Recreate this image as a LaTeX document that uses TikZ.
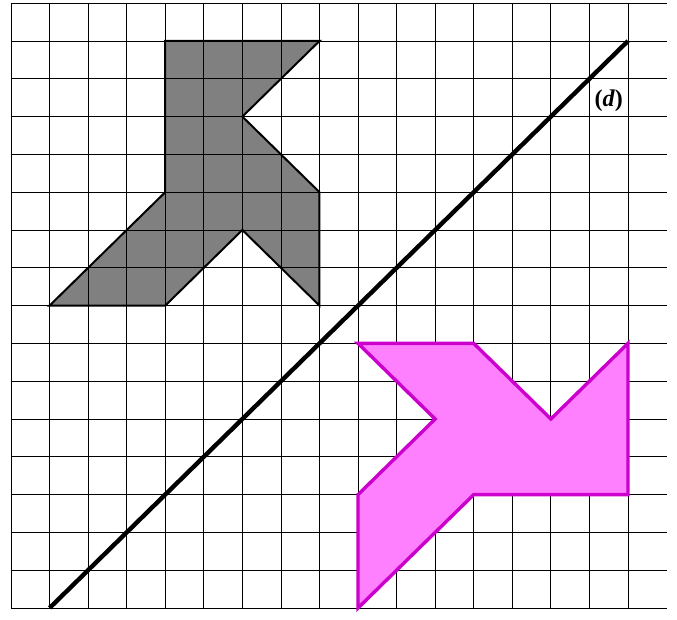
\documentclass[tikz,border=0pt]{standalone}
\usepackage{fontspec}
\newfontfamily\lblfont{Liberation Serif}
\begin{document}
\begin{tikzpicture}[x=38.56pt,y=37.8pt,
  gridline/.style={black,line width=0.8pt},
  grayline/.style={black,line width=2pt,line join=miter},
  pinkshape/.style={fill={rgb,255:red,255;green,128;blue,255},draw={rgb,255:red,204;green,0;blue,204},line width=3.4pt,line join=miter},
  axisline/.style={black,line width=4.4pt},
  lbl/.style={font=\lblfont\fontsize{24}{28}\selectfont\bfseries}]
\useasboundingbox (-11pt,-11pt) rectangle (666pt,608pt);
% gray figure fill
\fill[black!50] (4,15) -- (8,15) -- (6,13) -- (8,11) -- (8,8) -- (6,10) -- (4,8) -- (1,8) -- (4,11) -- cycle;
% grid
\foreach \i in {0,...,16} {\draw[gridline] (\i,0) -- (\i,16);}
\foreach \j in {0,...,16} {\draw[gridline] (0,\j) -- (17,\j);}
% gray outline
\draw[grayline] (4,15) -- (8,15) -- (6,13) -- (8,11) -- (8,8) -- (6,10) -- (4,8) -- (1,8) -- (4,11) -- cycle;
% pink image
\filldraw[pinkshape] (16,3) -- (16,7) -- (14,5) -- (12,7) -- (9,7) -- (11,5) -- (9,3) -- (9,0) -- (12,3) -- cycle;
% axis
\coordinate (dA) at (1,0);
\coordinate (dB) at (16,15);
\draw[axisline] (dA) -- (dB);
\node[lbl] (dl) at (15.5,13.42) {(\textit{d})};
\end{tikzpicture}
\end{document}
